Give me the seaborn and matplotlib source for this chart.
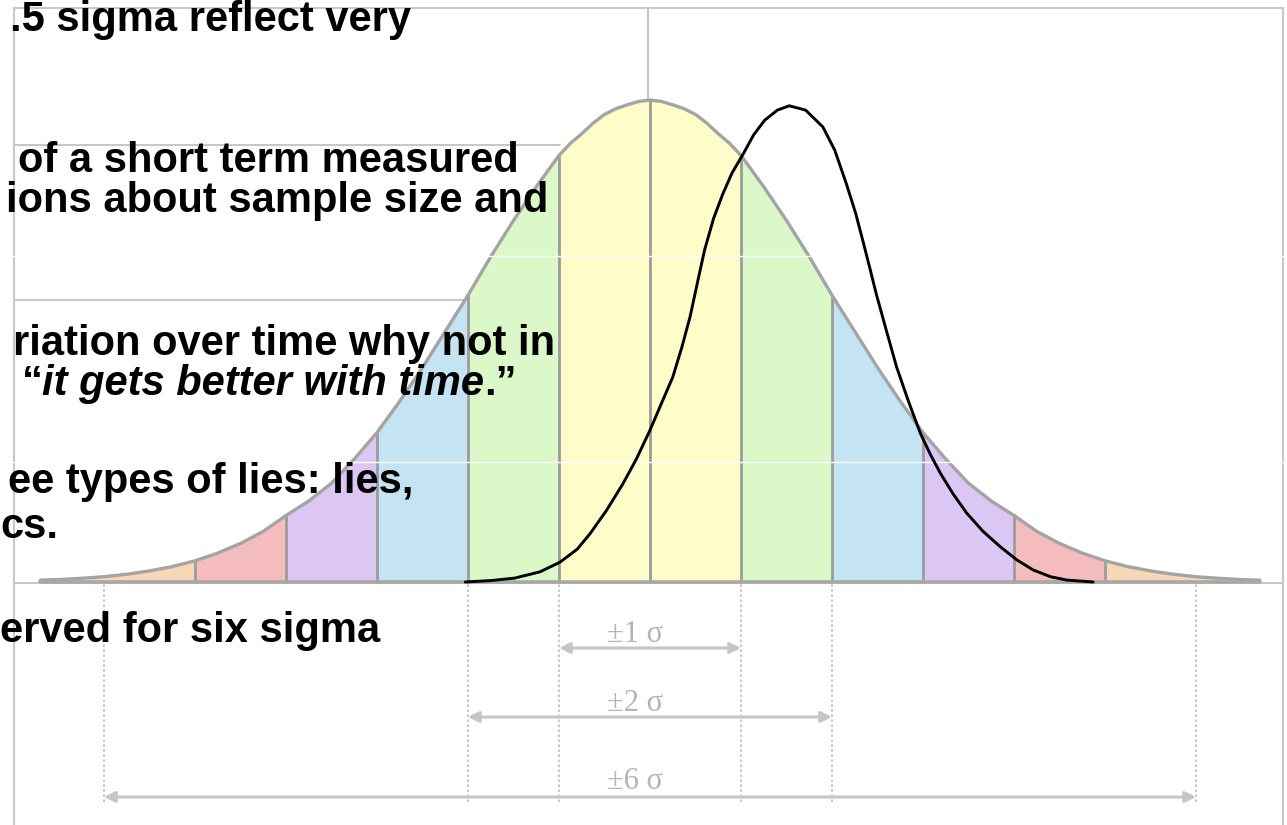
import numpy as np
import pandas as pd
import matplotlib.pyplot as plt
import seaborn as sns

# x in "sigma" units as labelled on the slide, y scaled so the bell peak is 1
# right half of the grey bell curve (curve is symmetric)
bell_x = [0, 0.125, 0.25, 0.375, 0.5, 0.625, 0.75, 0.875, 1, 1.25, 1.5, 1.75, 2, 2.25, 2.5, 2.75,
          3, 3.25, 3.5, 3.75, 4, 4.25, 4.5, 4.75, 5, 5.25, 5.5, 5.75, 6, 6.25, 6.5, 6.7]
bell_y = [1.0, 0.997, 0.99, 0.982, 0.97, 0.952, 0.93, 0.91, 0.885, 0.82, 0.75, 0.675, 0.595, 0.52,
          0.445, 0.375, 0.31, 0.255, 0.205, 0.168, 0.138, 0.105, 0.08, 0.06, 0.044, 0.032, 0.023,
          0.016, 0.011, 0.0076, 0.005, 0.0037]

# black shifted curve
shift_x = [-2.03, -1.75, -1.49, -1.21, -0.99, -0.80, -0.66, -0.48, -0.30, -0.15, 0.00, 0.12, 0.25,
           0.35, 0.44, 0.52, 0.60, 0.70, 0.80, 0.90, 1.03, 1.14, 1.26, 1.40, 1.53, 1.71, 1.90, 2.03,
           2.16, 2.26, 2.35, 2.42, 2.49, 2.60, 2.71, 2.84, 2.97, 3.08, 3.19, 3.33, 3.48, 3.66, 3.85,
           4.03, 4.21, 4.40, 4.58, 4.87]
shift_y = [0.0, 0.003, 0.008, 0.021, 0.041, 0.068, 0.100, 0.148, 0.203, 0.255, 0.315, 0.368, 0.425,
           0.487, 0.550, 0.62, 0.689, 0.755, 0.805, 0.848, 0.89, 0.928, 0.958, 0.979, 0.988, 0.979,
           0.944, 0.896, 0.825, 0.765, 0.70, 0.648, 0.595, 0.52, 0.446, 0.375, 0.309, 0.265, 0.226,
           0.183, 0.143, 0.105, 0.073, 0.046, 0.025, 0.011, 0.004, 0.0]

band_edges = [-6.7, -5, -4, -3, -2, -1, 0, 1, 2, 3, 4, 5, 6.7]
band_colors = ['#f7d8b4', '#f4bcbc', '#dcc6f4', '#c4e4f4', '#daf8c8', '#fefcc8',
               '#fefcc8', '#daf8c8', '#c4e4f4', '#dcc6f4', '#f4bcbc', '#f7d8b4']

sigma_spans = [1, 2, 6]
sigma_labels = ['\u00b11 \u03c3', '\u00b12 \u03c3', '\u00b16 \u03c3']

# visible parts of the slide text (the text box runs off the left edge)
note_lines = ['.5 sigma reflect very',
              'of a short term measured',
              'ions about sample size and',
              'riation over time why not in',
              'ee types of lies: lies,',
              'cs.',
              'erved for six sigma']
note_right = [411, 519, 548, 555, 413, 58, 380]
note_base = [31, 172, 212, 355, 493, 538, 642]

W, H = 1287, 825
# pixel position of the centre / baseline and size of one sigma / unit height
CX, BY, SX, SY = 650, 582, 91, 482

sns.set_style('white')
plt.rcParams['font.family'] = ['Liberation Sans', 'DejaVu Sans']

bell = pd.DataFrame({'x': [-v for v in bell_x[::-1]] + bell_x[1:],
                     'y': bell_y[::-1] + bell_y[1:]})
shifted = pd.DataFrame({'x': shift_x, 'y': shift_y})

fig = plt.figure(figsize=(W / 100, H / 100), dpi=100)

# background frame of the slide in pixel coordinates
fr = fig.add_axes([0, 0, 1, 1], zorder=0)
fr.set_xlim(0, W)
fr.set_ylim(H, 0)
fr.axis('off')
frame_col = '#c8c8c8'
fr.plot([14, 1283], [8, 8], color=frame_col, lw=1.5)
fr.plot([14, 14], [8, H], color=frame_col, lw=1.5)
fr.plot([1283, 1283], [8, H], color=frame_col, lw=1.5)
fr.plot([14, 560], [145, 145], color=frame_col, lw=1.5)
fr.plot([14, 466], [300, 300], color=frame_col, lw=1.5)
fr.plot([648, 648], [8, 100], color=frame_col, lw=1.5)
fr.plot([14, 1283], [583, 583], color=frame_col, lw=1.5)

# main chart axes
ax = fig.add_axes([0, 0, 1, 1], zorder=1)
ax.patch.set_alpha(0)
ax.set_xlim(-CX / SX, (W - CX) / SX)
ax.set_ylim((BY - H) / SY, BY / SY)
ax.axis('off')

xs = bell['x'].values
ys = bell['y'].values
for i, col in enumerate(band_colors):
    a, b = band_edges[i], band_edges[i + 1]
    m = (xs >= a - 1e-9) & (xs <= b + 1e-9)
    ax.fill_between(xs[m], ys[m], 0, color=col, lw=0, zorder=1)

# band separators
for e in band_edges[1:-1]:
    h = ys[np.argmin(np.abs(xs - e))]
    ax.plot([e, e], [0, h], color='#9c9c9c', lw=2, zorder=2)

sns.lineplot(data=bell, x='x', y='y', ax=ax, color='#a4a4a4', lw=2.4, sort=False, zorder=3)
ax.plot([band_edges[0], band_edges[-1]], [0, 0], color='#a8a8a8', lw=2.6, zorder=3)

# faint white scan lines across the picture
for py in [256, 462]:
    ax.axhline((BY - py) / SY, color='white', lw=1, zorder=4)

sns.lineplot(data=shifted, x='x', y='y', ax=ax, color='black', lw=2.1, sort=False, zorder=5)

# sigma span markers below the axis
arrow_y = [(BY - 648) / SY, (BY - 717) / SY, (BY - 797) / SY]
label_y = [(BY - 642) / SY, (BY - 711) / SY, (BY - 789) / SY]
bottom = (BY - 802) / SY
for k in sigma_spans:
    ax.vlines([-k, k], bottom, 0, colors='#bcbcbc', linestyles=(0, (1.5, 1.5)), lw=1.2, zorder=2)
for k, lab, yA, yL in zip(sigma_spans, sigma_labels, arrow_y, label_y):
    ax.annotate('', xy=(-k, yA), xytext=(k, yA),
                arrowprops=dict(arrowstyle='<|-|>', color='#c6c6c6', lw=2.2,
                                mutation_scale=16, shrinkA=0, shrinkB=0))
    ax.text(-0.165, yL, lab, family=['Liberation Serif', 'DejaVu Serif'], fontsize=22,
            color='#b4b4b4', ha='center', va='baseline')

# slide text
txt = dict(fontsize=30, fontweight='bold', color='black')
for s, xr, yb in zip(note_lines, note_right, note_base):
    fig.text(xr / W, 1 - yb / H, s, ha='right', va='baseline', **txt)

t_end = fig.text(517 / W, 1 - 395 / H, '.\u201d', ha='right', va='baseline', **txt)
t_mid = ax.annotate('it gets better with time', xy=(0, 0), xycoords=t_end,
                    ha='right', va='bottom', fontstyle='italic', zorder=10, **txt)
ax.annotate('\u201c', xy=(0, 0), xycoords=t_mid, ha='right', va='bottom', zorder=10, **txt)

fig.savefig('out.png', dpi=100)
